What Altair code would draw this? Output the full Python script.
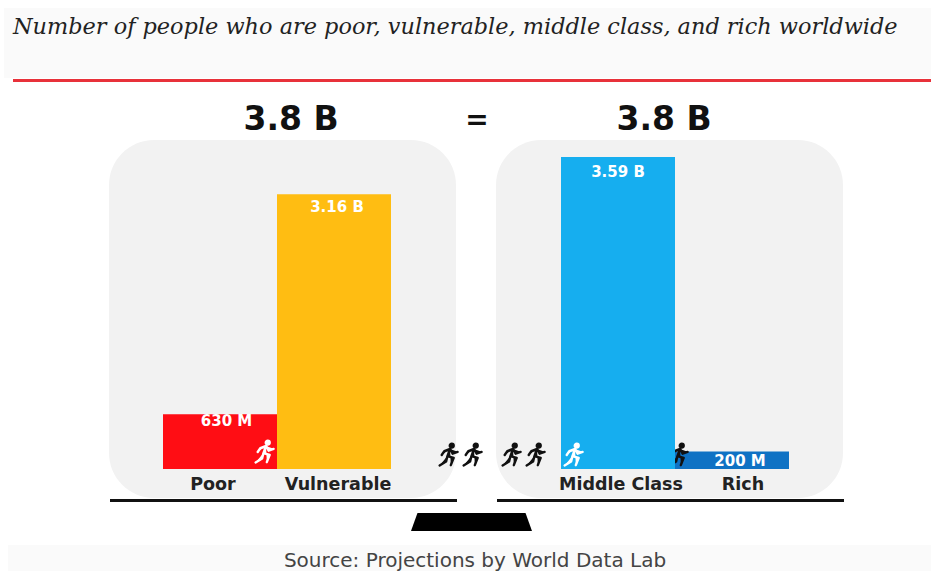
import altair as alt
import pandas as pd

# Population groups, in millions of people
left_groups = ["Poor", "Vulnerable"]
left_values = [630, 3160]
right_groups = ["Middle Class", "Rich"]
right_values = [3590, 200]
value_labels = {"Poor": "630 M", "Vulnerable": "3.16 B", "Middle Class": "3.59 B", "Rich": "200 M"}
bar_colors = {"Poor": "#ff0d14", "Vulnerable": "#ffbd12", "Middle Class": "#16aeef", "Rich": "#0f72c4"}
label_drop = {"Poor": 7, "Vulnerable": 13, "Middle Class": 15, "Rich": 9}
label_shift = {"Poor": 6.5, "Vulnerable": 3, "Middle Class": 0, "Rich": 8}

title_text = "Number of people who are poor, vulnerable, middle class, and rich worldwide"
source_text = "Source: Projections by World Data Lab"
totals = ["3.8 B", "=", "3.8 B"]

W, H = 931, 571
BASE_Y, TOP_Y, TOP_VALUE = 469, 157, 3590

RUNNER = (
    "M0.06,-0.72 a0.15,0.15 0 1 0 0.3,0 a0.15,0.15 0 1 0 -0.3,0 Z "
    "M0.08,-0.46 L-0.12,0.08 L0.36,0.22 L0.14,0.78 "
    "M-0.12,0.08 L-0.22,0.5 L-0.72,0.8 "
    "M0.08,-0.46 L-0.36,-0.3 L-0.56,0.0 "
    "M0.08,-0.46 L0.28,-0.1 L0.66,-0.24"
)
STAND = "M-0.893,-0.149 L0.893,-0.149 L1,0.149 L-1,0.149 Z"

one = pd.DataFrame({"n": [1]})
y_scale = alt.Scale(domain=[0, TOP_VALUE], range=[BASE_Y, TOP_Y], clamp=False)


def frame(groups, values, name):
    return pd.DataFrame({"group": [name], "value": [values[groups.index(name)]],
                         "label": [value_labels[name]]})


def x_enc(groups, span):
    return alt.X("group:N", axis=None, sort=groups,
                 scale=alt.Scale(domain=groups, range=span, paddingInner=0, paddingOuter=0))


def bar(groups, values, name, span):
    return alt.Chart(frame(groups, values, name)).mark_bar(color=bar_colors[name]).encode(
        x=x_enc(groups, span),
        y=alt.Y("value:Q", axis=None, scale=y_scale),
        y2=alt.datum(0),
    )


def value_text(groups, values, name, span):
    return alt.Chart(frame(groups, values, name)).mark_text(
        font="DejaVu Sans", fontWeight="bold", fontSize=15, color="white",
        dy=label_drop[name], dx=label_shift[name], baseline="middle", align="center",
    ).encode(x=x_enc(groups, span), y=alt.Y("value:Q", axis=None, scale=y_scale), text="label:N")


def group_text(groups, span):
    return alt.Chart(pd.DataFrame({"group": groups})).mark_text(
        font="DejaVu Sans", fontWeight="bold", fontSize=17.5, color="#222222", baseline="middle",
    ).encode(x=x_enc(groups, span), y=alt.value(485), text="group:N")


def rect(x0, x1, y0, y1, color, radius=0):
    return alt.Chart(one).mark_rect(color=color, cornerRadius=radius).encode(
        x=alt.value(x0), x2=alt.value(x1), y=alt.value(y0), y2=alt.value(y1))


def label(text, x, y, **kw):
    return alt.Chart(one).transform_calculate(t=repr(text)).mark_text(**kw).encode(
        x=alt.value(x), y=alt.value(y), text="t:N")


def runner(x, y, color):
    return alt.Chart(one).mark_point(
        shape=RUNNER, size=680, filled=True, fill=color, stroke=color,
        strokeWidth=2.4, opacity=1, strokeJoin="round", strokeCap="round",
    ).encode(x=alt.value(x), y=alt.value(y))


LEFT_SPAN = [163, 391]
RIGHT_SPAN = [561, 789]

layers = [
    rect(4, W, 8, 78, "#fafafa"),
    rect(8, W, 545, H, "#fafafa"),
    rect(13, W, 79, 82, "#e8313a"),
    label(title_text, 13, 27, font="DejaVu Serif", fontStyle="italic", fontSize=22.4,
          color="#222222", align="left", baseline="middle"),
    label(totals[0], 291, 120, font="DejaVu Sans", fontWeight="bold", fontSize=33,
          color="#111111", align="center", baseline="middle"),
    label(totals[1], 477, 121, font="DejaVu Sans", fontWeight="bold", fontSize=28,
          color="#111111", align="center", baseline="middle"),
    label(totals[2], 664, 120, font="DejaVu Sans", fontWeight="bold", fontSize=33,
          color="#111111", align="center", baseline="middle"),
    rect(109, 456, 140, 498, "#f2f2f2", 45),
    rect(496, 843, 140, 498, "#f2f2f2", 45),
    bar(left_groups, left_values, "Poor", LEFT_SPAN),
    runner(265, 452, "white"),
    bar(left_groups, left_values, "Vulnerable", LEFT_SPAN),
    bar(right_groups, right_values, "Rich", RIGHT_SPAN),
    runner(679, 455, "#111111"),
    bar(right_groups, right_values, "Middle Class", RIGHT_SPAN),
    runner(449, 455, "#111111"),
    runner(473, 455, "#111111"),
    runner(512, 455, "#111111"),
    runner(536, 455, "#111111"),
    runner(574, 455, "white"),
]
for name in left_groups:
    layers.append(value_text(left_groups, left_values, name, LEFT_SPAN))
for name in right_groups:
    layers.append(value_text(right_groups, right_values, name, RIGHT_SPAN))
layers += [
    group_text(left_groups, [150.5, 400.5]),
    group_text(right_groups, [560, 804]),
    rect(110, 457, 499, 502, "#111111"),
    rect(497, 844, 499, 502, "#111111"),
    alt.Chart(one).mark_point(shape=STAND, size=121 * 121, filled=True, fill="black",
                              strokeWidth=0, opacity=1).encode(x=alt.value(471.5), y=alt.value(522)),
    label(source_text, 475, 561, font="DejaVu Sans", fontSize=20, color="#444444",
          align="center", baseline="middle"),
]

chart = (
    alt.layer(*layers)
    .resolve_scale(x="independent", y="shared")
    .properties(width=W, height=H, padding=0, autosize=alt.AutoSizeParams(type="none"), background="white")
    .configure_view(stroke=None)
)

chart.save("out.html", embed_options={"renderer": "svg", "actions": False})
